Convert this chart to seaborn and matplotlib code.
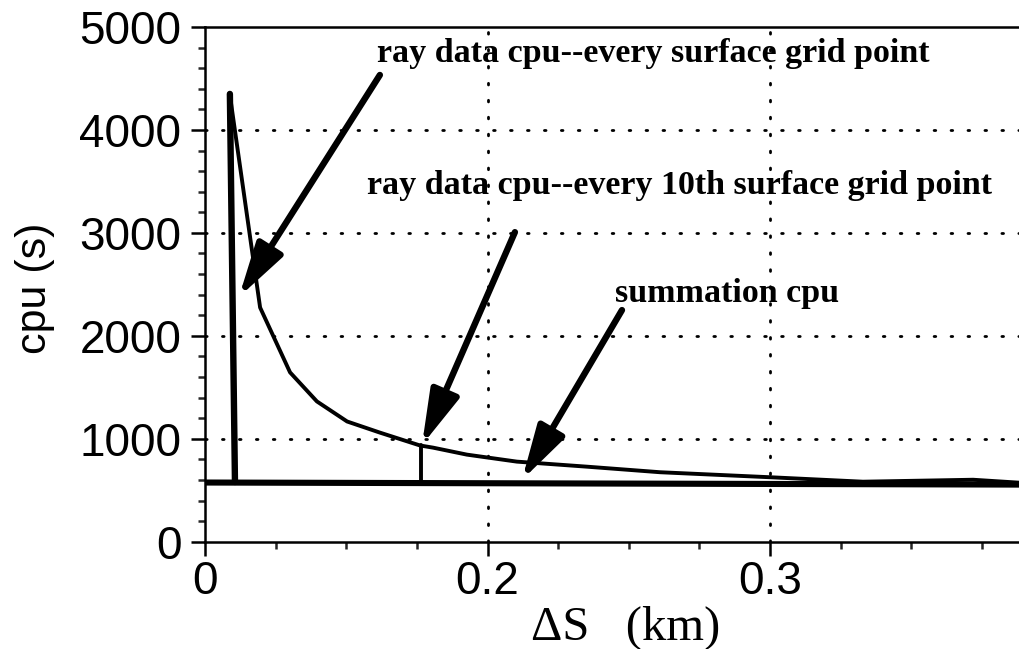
import matplotlib
matplotlib.use("Agg")
import matplotlib.pyplot as plt
import seaborn as sns
import pandas as pd
from matplotlib.ticker import FixedLocator, FixedFormatter, MultipleLocator

# ---- data ----
curve_x = [0.1088, 0.1195, 0.1301, 0.1396, 0.1503, 0.1619, 0.1761, 0.1807, 0.1927,
           0.2104, 0.2352, 0.2611, 0.3011, 0.3329, 0.3719, 0.3885]
curve_y = [4340, 2275, 1645, 1363, 1168, 1060, 935, 914, 846,
           778, 729, 675, 625, 583, 602, 573]

spike_x = [0.1088, 0.1106]
spike_y = [4350, 580]

tenth_x = [0.1765, 0.1765]
tenth_y = [575, 935]

sum_x = [0.1, 0.3885]
sum_y = [575, 555]

x_tick_pos = [0.1, 0.2, 0.3]
x_tick_labels = ["0", "0.2", "0.3"]
y_ticks = [0, 1000, 2000, 3000, 4000, 5000]

labels = ["ray data cpu--every surface grid point",
          "ray data cpu--every 10th surface grid point",
          "summation cpu"]

sns.set_style("ticks")
plt.rcParams['font.family'] = ['Liberation Sans', 'DejaVu Sans']
plt.rcParams['text.color'] = 'black'
plt.rcParams['axes.labelcolor'] = 'black'

fig = plt.figure(figsize=(10.2, 6.49), dpi=100)
ax = fig.add_axes([0.201, 0.1653, 0.799, 0.7931])

df_curve = pd.DataFrame({"x": curve_x, "y": curve_y})
df_spike = pd.DataFrame({"x": spike_x, "y": spike_y})
df_tenth = pd.DataFrame({"x": tenth_x, "y": tenth_y})
df_sum = pd.DataFrame({"x": sum_x, "y": sum_y})

sns.lineplot(data=df_sum, x="x", y="y", ax=ax, color="black", lw=4.4, sort=False, estimator=None)
sns.lineplot(data=df_curve, x="x", y="y", ax=ax, color="black", lw=2.8, sort=False, estimator=None)
sns.lineplot(data=df_spike, x="x", y="y", ax=ax, color="black", lw=4.6, sort=False, estimator=None)
sns.lineplot(data=df_tenth, x="x", y="y", ax=ax, color="black", lw=2.8, sort=False, estimator=None)

ax.set_xlim(0.1, 0.3885)
ax.set_ylim(0, 5000)

ax.xaxis.set_major_locator(FixedLocator(x_tick_pos))
ax.xaxis.set_major_formatter(FixedFormatter(x_tick_labels))
ax.xaxis.set_minor_locator(MultipleLocator(0.025))
ax.yaxis.set_major_locator(FixedLocator(y_ticks))
ax.yaxis.set_minor_locator(MultipleLocator(200))

ax.tick_params(axis="both", which="major", direction="out", length=10, width=1.8,
               labelsize=33, colors="black", pad=3)
ax.tick_params(axis="y", which="major", pad=7)
ax.tick_params(axis="both", which="minor", direction="out", length=5, width=1.8)

for s in ["left", "bottom", "top"]:
    ax.spines[s].set_visible(True)
    ax.spines[s].set_linewidth(1.8)
    ax.spines[s].set_color("black")
ax.spines["right"].set_visible(False)

# dotted grid only at interior majors
for gx in [0.2, 0.3]:
    ax.axvline(gx, color="black", lw=2.0, ls=(0, (0.6, 5.5)), zorder=0, dash_capstyle="round")
for gy in [1000, 2000, 3000, 4000]:
    ax.axhline(gy, color="black", lw=2.0, ls=(0, (0.6, 5.5)), zorder=0, dash_capstyle="round")

ax.set_xlabel("")
ax.set_ylabel("")
fig.text(0.034, 0.555, "cpu (s)", rotation=90, ha="center", va="center", fontsize=31,
         family=["Liberation Sans"], color="black")
fig.text(0.613, 0.032, "\u0394S   (km)", ha="center", va="center", fontsize=35,
         family=["Liberation Serif"], color="black")

serif_bold = dict(family=["Liberation Serif"], fontweight="bold", fontsize=24.5, color="black")
arrow = dict(arrowstyle="-|>,head_length=1.1,head_width=0.3", lw=4.6, color="black",
             mutation_scale=30, shrinkA=0, shrinkB=0)

ax.text(0.2586, 4747, labels[0], ha="center", va="center", **serif_bold)
ax.text(0.2681, 3465, labels[1], ha="center", va="center", **serif_bold)
ax.text(0.2848, 2415, labels[2], ha="center", va="center", **serif_bold)

ax.annotate("", xy=(0.1120, 2377), xytext=(0.1619, 4534), arrowprops=arrow)
ax.annotate("", xy=(0.1768, 939), xytext=(0.2097, 3007), arrowprops=arrow)
ax.annotate("", xy=(0.2122, 600), xytext=(0.2476, 2250), arrowprops=arrow)

fig.savefig("out.png", dpi=100)
